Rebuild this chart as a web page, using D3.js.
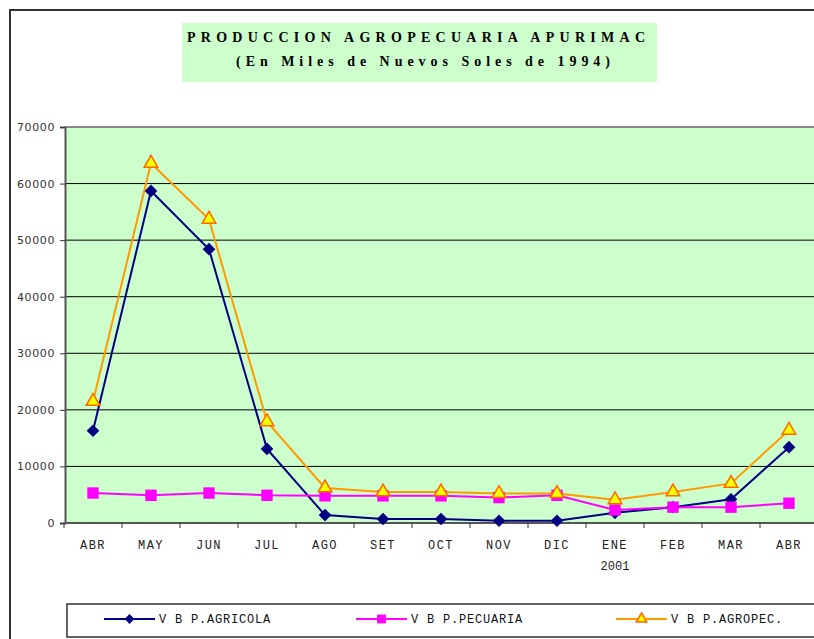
<!DOCTYPE html>
<html>
<head>
<meta charset="utf-8">
<script src="https://cdn.jsdelivr.net/npm/d3@7"></script>
<style>
  body { margin: 0; background: #fff; }
</style>
</head>
<body>
<script>
// months along the x axis (two ABR, so positions go by index)
const months = ["ABR", "MAY", "JUN", "JUL", "AGO", "SET", "OCT", "NOV", "DIC", "ENE", "FEB", "MAR", "ABR"];
const agricola = [16300, 58700, 48400, 13100, 1400, 700, 700, 400, 400, 1800, 2800, 4200, 13400];
const pecuaria = [5300, 4900, 5300, 4900, 4800, 4800, 4800, 4500, 4900, 2300, 2800, 2800, 3500];
const agropec = [21500, 63600, 53700, 17900, 6200, 5500, 5500, 5200, 5200, 4100, 5500, 7000, 16400];
const yTicks = [0, 10000, 20000, 30000, 40000, 50000, 60000, 70000];
const seriesNames = ["V B P.AGRICOLA", "V B P.PECUARIA", "V B P.AGROPEC."];

const W = 814, H = 639,
      plot = {left: 65, right: 830, top: 127, bottom: 523};

const svg = d3.select("body").append("svg")
    .attr("width", W)
    .attr("height", H);

// outer chart border
svg.append("rect")
    .attr("x", 10).attr("y", 10)
    .attr("width", 840).attr("height", 660)
    .attr("fill", "none")
    .attr("stroke", "#333")
    .attr("stroke-width", 2);

// title box
svg.append("rect")
    .attr("x", 182).attr("y", 23)
    .attr("width", 475).attr("height", 59)
    .attr("fill", "#ccffcc");

svg.append("text")
    .attr("x", 187).attr("y", 42)
    .attr("textLength", 458).attr("lengthAdjust", "spacing")
    .style("font", "bold 14px 'Liberation Serif'")
    .text("PRODUCCION AGROPECUARIA  APURIMAC");

svg.append("text")
    .attr("x", 236).attr("y", 66)
    .attr("textLength", 374).attr("lengthAdjust", "spacing")
    .style("font", "bold 14px 'Liberation Serif'")
    .text("(En Miles de Nuevos Soles de 1994)");

// scales
const x = d3.scalePoint()
    .domain(d3.range(months.length))
    .range([64, 818])
    .padding(0.5);

const y = d3.scaleLinear()
    .domain([0, 70000])
    .range([plot.bottom, plot.top]);

// plot background
svg.append("rect")
    .attr("x", plot.left).attr("y", plot.top)
    .attr("width", plot.right - plot.left)
    .attr("height", plot.bottom - plot.top)
    .attr("fill", "#ccffcc");

// gridlines
svg.append("g")
    .selectAll("line")
    .data(yTicks.slice(1, -1))
    .join("line")
    .attr("x1", plot.left).attr("x2", plot.right)
    .attr("y1", d => y(d)).attr("y2", d => y(d))
    .attr("stroke", "#000")
    .attr("stroke-width", 1);

// top border of plot
svg.append("line")
    .attr("x1", plot.left).attr("x2", plot.right)
    .attr("y1", plot.top).attr("y2", plot.top)
    .attr("stroke", "#888").attr("stroke-width", 2);

// Y axis
const yAxis = svg.append("g")
    .attr("transform", "translate(" + plot.left + ",0)")
    .call(d3.axisLeft(y).tickValues(yTicks).tickSize(5).tickPadding(5).tickFormat(d3.format("d")));
yAxis.select(".domain").attr("stroke", "#555").attr("stroke-width", 2);
yAxis.selectAll(".tick line").attr("stroke", "#333");
yAxis.selectAll("text")
    .style("font", "11px 'DejaVu Sans'")
    .style("letter-spacing", "0.6px")
    .attr("fill", "#333");

// X axis with ticks between categories
const step = x.step();
const xAxis = svg.append("g")
    .attr("transform", "translate(0," + plot.bottom + ")");
xAxis.append("line")
    .attr("x1", plot.left).attr("x2", plot.right)
    .attr("stroke", "#555").attr("stroke-width", 2);
xAxis.selectAll(".sep")
    .data(d3.range(months.length + 1))
    .join("line")
    .attr("class", "sep")
    .attr("x1", i => x(0) - step / 2 + i * step)
    .attr("x2", i => x(0) - step / 2 + i * step)
    .attr("y1", 0).attr("y2", 5)
    .attr("stroke", "#333");
xAxis.selectAll(".lbl")
    .data(months)
    .join("text")
    .attr("class", "lbl")
    .attr("x", (d, i) => x(i))
    .attr("y", 26)
    .attr("text-anchor", "middle")
    .style("font", "12px 'Liberation Mono'")
    .style("letter-spacing", "1.5px")
    .attr("fill", "#222")
    .text(d => d);
xAxis.append("text")
    .attr("x", x(9))
    .attr("y", 47)
    .attr("text-anchor", "middle")
    .style("font", "12px 'Liberation Mono'")
    .attr("fill", "#222")
    .text("2001");

// series (diamond = square turned 45 degrees)
const series = [
  {name: seriesNames[0], values: agricola, color: "#000080", symbol: d3.symbolSquare, rot: 45, size: 80, fill: "#000080", stroke: "#000080"},
  {name: seriesNames[1], values: pecuaria, color: "#ff00ff", symbol: d3.symbolSquare, rot: 0, size: 130, fill: "#ff00ff", stroke: "#ff00ff"},
  {name: seriesNames[2], values: agropec, color: "#ff9900", symbol: d3.symbolTriangle, rot: 0, size: 80, fill: "#ffff00", stroke: "#ff6600"}
];

const line = d3.line()
    .x((d, i) => x(i))
    .y(d => y(d));

series.forEach(s => {
  svg.append("path")
      .datum(s.values)
      .attr("fill", "none")
      .attr("stroke", s.color)
      .attr("stroke-width", 2)
      .attr("d", line);
});
series.forEach(s => {
  svg.append("g")
      .selectAll("path")
      .data(s.values)
      .join("path")
      .attr("transform", (d, i) => "translate(" + x(i) + "," + y(d) + ") rotate(" + s.rot + ")")
      .attr("d", d3.symbol().type(s.symbol).size(s.size))
      .attr("fill", s.fill)
      .attr("stroke", s.stroke)
      .attr("stroke-width", s.symbol === d3.symbolTriangle ? 1.5 : 0);
});

// legend
svg.append("rect")
    .attr("x", 67).attr("y", 604)
    .attr("width", 800).attr("height", 33)
    .attr("fill", "#fff")
    .attr("stroke", "#333")
    .attr("stroke-width", 1.5);

const legendX = [104, 356, 616];
series.forEach((s, i) => {
  const g = svg.append("g").attr("transform", "translate(" + legendX[i] + ",619)");
  g.append("line")
      .attr("x1", 0).attr("x2", 51)
      .attr("stroke", s.color).attr("stroke-width", 2);
  g.append("path")
      .attr("transform", "translate(25.5,0) rotate(" + s.rot + ")")
      .attr("d", d3.symbol().type(s.symbol).size(s.size * 0.6))
      .attr("fill", s.fill)
      .attr("stroke", s.stroke)
      .attr("stroke-width", s.symbol === d3.symbolTriangle ? 1.5 : 0);
  g.append("text")
      .attr("x", 55).attr("y", 4)
      .style("font", "12px 'Liberation Mono'")
      .style("letter-spacing", "0.8px")
      .attr("fill", "#111")
      .text(s.name);
});
</script>
</body>
</html>
